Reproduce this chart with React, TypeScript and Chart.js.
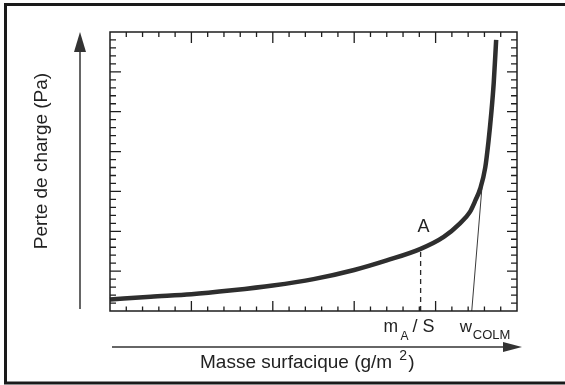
import React, { useEffect, useRef } from "react";
import { Chart, registerables } from "chart.js";

Chart.register(...registerables);

// Axis ranges (arbitrary units: one unit = one minor tick)
const X_MIN = 0;
const X_MAX = 25;
const Y_MIN = 0;
const Y_MAX = 35;
const MAJOR_EVERY = 5;

// Main curve: pressure drop vs. surface mass
const curveX = [0, 2.5, 5, 7.5, 10, 12.5, 15, 17, 19.08, 20.5, 21.5, 22.1, 22.45, 22.75, 23.05, 23.25, 23.42, 23.57, 23.72];
const curveY = [1.45, 1.8, 2.1, 2.6, 3.2, 4.0, 5.15, 6.35, 7.8, 9.3, 11.0, 12.4, 13.9, 15.4, 18.0, 21.3, 24.8, 28.6, 34.0];

// Tangent line (clogging asymptote)
const tangentX = [22.22, 22.9];
const tangentY = [0, 16.8];

// Point A (m_A / S)
const pointAX = [19.08, 19.08];
const pointAY = [0, 7.8];

const yTitle = "Perte de charge (Pa)";
const xTitle = "Masse surfacique (g/m";
const wColmX = tangentX[0];

export default function App() {
  const ref = useRef<HTMLCanvasElement | null>(null);

  useEffect(() => {
    if (!ref.current) return;
    const decor = {
      id: "decor",
      afterDatasetsDraw(chart: any) {
        const ctx = chart.ctx as CanvasRenderingContext2D;
        const xs = chart.scales.x;
        const ys = chart.scales.y;
        const L = xs.getPixelForValue(X_MIN);
        const R = xs.getPixelForValue(X_MAX);
        const T = ys.getPixelForValue(Y_MAX);
        const B = ys.getPixelForValue(Y_MIN);
        ctx.save();
        ctx.strokeStyle = "#1e1e1e";
        ctx.lineWidth = 1.5;
        ctx.strokeRect(L, T, R - L, B - T);
        ctx.lineWidth = 1.3;
        ctx.beginPath();
        for (let i = X_MIN + 1; i < X_MAX; i++) {
          const px = xs.getPixelForValue(i);
          const major = i % MAJOR_EVERY === 0;
          const lb = major ? 10 : 4.5;
          const lt = major ? 11 : 5;
          ctx.moveTo(px, B);
          ctx.lineTo(px, B - lb);
          ctx.moveTo(px, T);
          ctx.lineTo(px, T + lt);
        }
        for (let j = Y_MIN + 1; j < Y_MAX; j++) {
          const py = ys.getPixelForValue(j);
          const major = j % MAJOR_EVERY === 0;
          const ll = major ? 11 : 6;
          const lr = major ? 10 : 6;
          ctx.moveTo(L, py);
          ctx.lineTo(L + ll, py);
          ctx.moveTo(R, py);
          ctx.lineTo(R - lr, py);
        }
        ctx.stroke();
        ctx.restore();
      },
      afterDraw(chart: any) {
        const ctx = chart.ctx as CanvasRenderingContext2D;
        const xs = chart.scales.x;
        const ys = chart.scales.y;
        const L = xs.getPixelForValue(X_MIN);
        const R = xs.getPixelForValue(X_MAX);
        const T = ys.getPixelForValue(Y_MAX);
        const B = ys.getPixelForValue(Y_MIN);
        ctx.save();
        // outer frame
        ctx.strokeStyle = "#1a1a1a";
        ctx.lineWidth = 3;
        ctx.strokeRect(5.5, 4.5, 570, 378.5);

        // Y arrow
        ctx.strokeStyle = "#333";
        ctx.fillStyle = "#333";
        ctx.lineWidth = 1.5;
        const ax = L - 30;
        ctx.beginPath();
        ctx.moveTo(ax, B - 2);
        ctx.lineTo(ax, T + 16);
        ctx.stroke();
        ctx.beginPath();
        ctx.moveTo(ax, T);
        ctx.lineTo(ax - 6, T + 20);
        ctx.lineTo(ax + 6, T + 20);
        ctx.closePath();
        ctx.fill();

        // X arrow
        const ay = B + 36;
        ctx.beginPath();
        ctx.moveTo(L + 2, ay);
        ctx.lineTo(R - 10, ay);
        ctx.stroke();
        ctx.beginPath();
        ctx.moveTo(R + 5, ay);
        ctx.lineTo(R - 14, ay - 5);
        ctx.lineTo(R - 14, ay + 5);
        ctx.closePath();
        ctx.fill();

        ctx.fillStyle = "#222";
        const F = "'Liberation Sans', Arial, sans-serif";

        // Y title
        ctx.save();
        ctx.translate(47, 161);
        ctx.rotate(-Math.PI / 2);
        ctx.font = `19px ${F}`;
        ctx.textAlign = "center";
        ctx.textBaseline = "alphabetic";
        ctx.fillText(yTitle, 0, 0);
        ctx.restore();

        // X title
        ctx.font = `19px ${F}`;
        ctx.textAlign = "left";
        ctx.textBaseline = "alphabetic";
        const tx = 200;
        const tb = 368;
        ctx.fillText(xTitle, tx, tb);
        const w1 = ctx.measureText(xTitle).width;
        ctx.font = `14px ${F}`;
        ctx.fillText("2", tx + w1 + 7, tb - 8);
        ctx.font = `19px ${F}`;
        ctx.fillText(")", tx + w1 + 16, tb);

        // A label
        const pa = xs.getPixelForValue(pointAX[0]);
        ctx.font = `18px ${F}`;
        ctx.textAlign = "center";
        ctx.fillText("A", pa + 3, ys.getPixelForValue(pointAY[1]) - 17);

        // m_A / S
        ctx.textAlign = "left";
        const lb = B + 21;
        ctx.font = `17.5px ${F}`;
        ctx.fillText("m", pa - 37, lb);
        ctx.font = `12px ${F}`;
        ctx.fillText("A", pa - 20, lb + 8);
        ctx.font = `18px ${F}`;
        ctx.fillText("/ S", pa - 8, lb);

        // w_COLM
        const pw = xs.getPixelForValue(wColmX);
        ctx.font = `17px ${F}`;
        ctx.fillText("w", pw - 12, lb);
        ctx.font = `13px ${F}`;
        ctx.fillText("COLM", pw + 1, lb + 7);
        ctx.restore();
      },
    };

    const chart = new Chart(ref.current, {
      type: "line",
      data: {
        datasets: [
          {
            data: curveX.map((x, i) => ({ x, y: curveY[i] })),
            borderColor: "#2e2e2e",
            borderWidth: 4.5,
            pointRadius: 0,
            cubicInterpolationMode: "monotone",
            fill: false,
            clip: false,
          },
          {
            data: tangentX.map((x, i) => ({ x, y: tangentY[i] })),
            borderColor: "#3a3a3a",
            borderWidth: 1,
            pointRadius: 0,
            fill: false,
          },
          {
            data: pointAX.map((x, i) => ({ x, y: pointAY[i] })),
            borderColor: "#2a2a2a",
            borderWidth: 1.3,
            borderDash: [5, 4],
            pointRadius: 0,
            fill: false,
          },
        ],
      } as any,
      plugins: [decor],
      options: {
        animation: false,
        responsive: false,
        maintainAspectRatio: false,
        devicePixelRatio: 1,
        layout: { padding: { left: 110, right: 48, top: 32, bottom: 74 } },
        plugins: { legend: { display: false }, tooltip: { enabled: false } },
        scales: {
          x: { type: "linear", min: X_MIN, max: X_MAX, display: false },
          y: { type: "linear", min: Y_MIN, max: Y_MAX, display: false },
        },
      } as any,
    });
    return () => chart.destroy();
  }, []);

  return (
    <div style={{ position: "fixed", left: 0, top: 0, width: 565, height: 385, background: "#fff" }}>
      <canvas ref={ref} width={565} height={385} style={{ width: 565, height: 385 }} />
    </div>
  );
}
